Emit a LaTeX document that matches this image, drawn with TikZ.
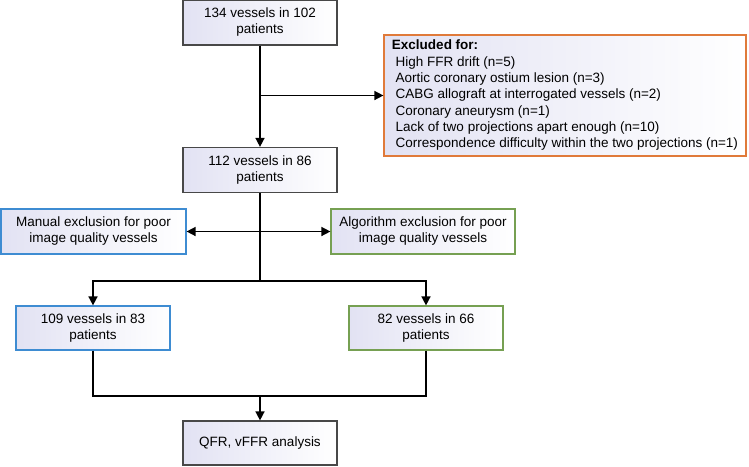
\documentclass[tikz,border=0pt]{standalone}
\usepackage{fontspec}
\setmainfont{Liberation Sans}
\usetikzlibrary{arrows.meta}
\definecolor{boxgray}{RGB}{72,72,72}
\definecolor{boxorange}{RGB}{224,122,58}
\definecolor{boxblue}{RGB}{62,140,210}
\definecolor{boxgreen}{RGB}{118,160,82}
\definecolor{boxfill}{RGB}{226,226,243}
\begin{document}
\begin{tikzpicture}[x=1pt,y=-1pt,
itm/.style={draw=boxgray,line width=1.2pt,rectangle,left color=boxfill,right color=white,minimum width=154pt,minimum height=45pt,inner sep=0pt,font=\fontsize{13.5}{16.3}\selectfont},
arr/.style={line width=1.5pt,-{Triangle[length=9pt,width=9pt]}},
lin/.style={line width=1.5pt}]
\useasboundingbox (0,0) rectangle (749,466);
\node[itm] (VA) at (260,22.5) {\begin{tabular}{c}134 vessels in 102\\patients\end{tabular}};
\node[itm,draw=boxorange,minimum width=362pt,minimum height=121pt] (EX) at (565,95.5) {\begin{tabular}{@{}l@{}}\textbf{Excluded for:}\\\ High FFR drift (n=5)\\\ Aortic coronary ostium lesion (n=3)\\\ CABG allograft at interrogated vessels (n=2)\\\ Coronary aneurysm (n=1)\\\ Lack of two projections apart enough (n=10)\\\ Correspondence difficulty within the two projections (n=1)\end{tabular}};
\node[itm] (VB) at (260,170) {\begin{tabular}{c}112 vessels in 86\\patients\end{tabular}};
\node[itm,draw=boxblue,minimum width=185pt] (MX) at (93.5,231.5) {\begin{tabular}{c}Manual exclusion for poor\\image quality vessels\end{tabular}};
\node[itm,draw=boxgreen,minimum width=184pt] (AX) at (423,231.5) {\begin{tabular}{c}Algorithm exclusion for poor\\image quality vessels\end{tabular}};
\node[itm,draw=boxblue,minimum height=44pt] (VC) at (93,328) {\begin{tabular}{c}109 vessels in 83\\patients\end{tabular}};
\node[itm,draw=boxgreen,minimum height=44pt] (VD) at (426,328) {\begin{tabular}{c}82 vessels in 66\\patients\end{tabular}};
\node[itm,minimum height=44pt] (QA) at (260,443) {QFR, vFFR analysis};
\coordinate (SP) at (260,281);
\coordinate (JN) at (260,396);
\draw[arr] (VA) -- (VB);
\draw[arr] (VA.south |- EX.west) -- (EX.west);
\draw[lin] (VB) -- (SP);
\draw[arr] (VB.south |- MX.east) -- (MX.east);
\draw[arr] (VB.south |- AX.west) -- (AX.west);
\draw[arr] (SP) -| (VC);
\draw[arr] (SP) -| (VD);
\draw[lin] (VC) |- (JN);
\draw[lin] (VD) |- (JN);
\draw[arr] (JN) -- (QA);
\end{tikzpicture}
\end{document}
